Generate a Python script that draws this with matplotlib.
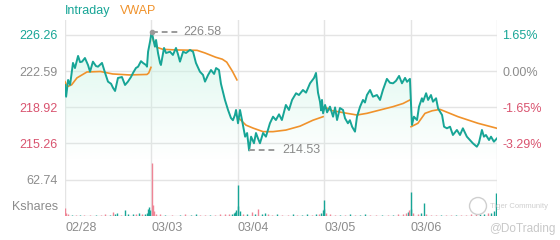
import numpy as np
import matplotlib.pyplot as plt
from matplotlib.patches import Polygon, Ellipse

plt.rcParams['font.family'] = ['Liberation Sans', 'DejaVu Sans']

# ---- data -------------------------------------------------------------
days = ["02/28", "03/03", "03/04", "03/05", "03/06"]
session = 390                      # minutes per trading day
prev_close = 222.59
price_ticks = [226.26, 222.59, 218.92, 215.26]
vol_tick = 62.74
hi_t, hi_price = 391, 226.58
lo_t, lo_price = 831, 214.53

# intraday price, minutes counted from the 02/28 open
price_t = [0, 5, 14, 23, 36, 45, 59, 68, 77, 90, 104, 113, 126, 140, 149, 167,
           181, 194, 208, 217, 226, 239, 257, 271, 284, 298, 307, 320, 330, 343,
           352, 366, 370, 375, 384,
           391, 406, 411, 420, 429, 433, 447, 456, 474, 487, 501, 510, 519, 533,
           546, 564, 578, 591, 609, 623, 632, 646, 659, 673, 682, 695, 704, 722,
           736, 749, 758, 767, 772,
           781, 790, 799, 813, 822, 831, 840, 853, 862, 871, 880, 894, 907, 925,
           939, 952, 966, 979, 997, 1011, 1025, 1043, 1056, 1074, 1088, 1106,
           1124, 1133, 1142, 1151, 1156, 1160, 1165,
           1174, 1183, 1196, 1210, 1219, 1228, 1241, 1255, 1264, 1277, 1286, 1296,
           1309, 1318, 1332, 1345, 1354, 1363, 1377, 1390, 1408, 1422, 1435, 1453,
           1467, 1481, 1494, 1508, 1521, 1535, 1544, 1557,
           1566, 1575, 1589, 1598, 1611, 1616, 1630, 1639, 1652, 1661, 1675, 1684,
           1702, 1711, 1724, 1738, 1751, 1769, 1783, 1796, 1814, 1828, 1841, 1859,
           1868, 1882, 1891, 1900, 1914, 1923, 1936, 1950]
price_v = [221.18, 219.99, 221.69, 221.20, 223.42, 222.90, 224.13, 223.50, 223.55,
           223.92, 223.20, 222.53, 223.55, 223.10, 223.04, 223.42, 222.40, 221.52,
           221.30, 220.88, 220.57, 221.89, 221.99, 221.18, 221.52, 222.00, 222.40,
           222.90, 223.04, 223.60, 223.42, 223.20, 223.04, 224.56, 225.60,
           226.58, 225.07, 225.75, 224.40, 223.42, 223.21, 224.94, 224.43, 224.56,
           224.23, 224.94, 224.30, 223.55, 224.56, 224.43, 224.74, 224.56, 223.42,
           222.53, 222.20, 221.52, 222.20, 222.70, 222.30, 222.90, 222.70, 221.30,
           219.66, 218.64, 217.83, 217.60, 218.13, 218.64,
           217.29, 218.64, 217.62, 215.93, 216.30, 214.53, 215.93, 215.26, 216.30,
           215.76, 215.26, 216.30, 215.93, 217.29, 217.96, 217.62, 218.20, 217.62,
           219.15, 218.64, 219.66, 220.34, 220.16, 220.67, 220.40, 221.35, 221.89,
           222.40, 220.40, 219.48, 218.60, 219.66, 218.30,
           219.15, 218.40, 218.98, 217.96, 218.90, 217.62, 218.84, 218.64, 217.80,
           217.29, 217.60, 216.94, 216.44, 217.96, 218.98, 219.66, 219.40, 220.16,
           220.67, 219.99, 220.16, 219.66, 220.67, 221.80, 221.40, 221.35, 221.60,
           222.10, 221.35, 221.90, 221.50, 221.80,
           217.12, 217.96, 217.62, 218.98, 219.83, 219.48, 220.34, 219.66, 220.16,
           219.48, 219.83, 218.80, 218.13, 216.94, 216.78, 216.94, 216.10, 216.61,
           216.10, 216.78, 215.93, 215.59, 215.26, 214.91, 215.26, 216.61, 215.93,
           216.10, 215.59, 215.93, 215.42, 215.76]

# VWAP, reset every day
vwap_t = [[0, 10, 30, 54, 99, 160, 215, 290, 370, 378, 388],
          [391, 400, 415, 442, 500, 596, 632, 680, 710, 730, 755, 776],
          [781, 785, 817, 849, 894, 939, 997, 1061, 1119, 1165],
          [1171, 1200, 1273, 1318, 1363, 1422, 1481, 1526, 1557],
          [1562, 1593, 1625, 1657, 1693, 1774, 1864, 1950]]
vwap_v = [[221.52, 221.00, 221.20, 221.90, 222.50, 222.55, 222.30, 222.20, 222.25, 222.40, 222.97],
          [226.40, 225.60, 225.00, 224.80, 224.74, 224.70, 224.43, 224.00, 223.80, 223.50, 222.60, 221.70],
          [217.83, 217.80, 217.10, 216.80, 216.44, 216.44, 216.60, 217.00, 217.60, 217.96],
          [218.98, 218.60, 218.30, 218.13, 218.30, 218.64, 218.98, 219.30, 219.66],
          [216.94, 217.29, 218.30, 218.56, 218.70, 217.96, 217.29, 216.78]]

# volume (thousand shares); up=1 teal, up=0 red
vol_t = [0, 5, 14, 32, 50, 68, 86, 113, 140, 163, 181, 203, 217, 226, 235, 253, 271,
         284, 307, 320, 334, 348, 361, 370, 375, 379, 384,
         391, 395, 402, 411, 429, 451, 483, 519, 542, 569, 591, 609, 632, 655, 677,
         700, 722, 740, 754, 763, 767, 772,
         779, 783, 790, 804, 822, 844, 858, 871, 889, 903, 916, 934, 957, 979, 1007,
         1029, 1047, 1070, 1092, 1115, 1133, 1147, 1156, 1163, 1167,
         1171, 1178, 1196, 1219, 1241, 1264, 1286, 1309, 1332, 1354, 1377, 1404,
         1431, 1458, 1481, 1503, 1526, 1540, 1549, 1553,
         1560, 1564, 1571, 1593, 1607, 1620, 1630, 1652, 1675, 1698, 1720, 1743,
         1765, 1788, 1810, 1833, 1856, 1874, 1891, 1909, 1923, 1936, 1945]
vol_v = [14, 5, 3, 2, 2, 2, 2, 2, 2, 2, 3, 2, 7, 4, 6, 2, 10,
         3, 4, 3, 5, 3, 4, 6, 12, 16, 10,
         92, 20, 8, 4, 3, 2, 2, 2, 3, 2, 3, 2, 2, 2, 2,
         3, 3, 4, 4, 5, 7, 10,
         54, 18, 8, 4, 4, 7, 4, 13, 4, 5, 4, 2, 3, 2, 2,
         3, 2, 2, 3, 2, 3, 4, 5, 10, 13,
         28, 6, 3, 2, 2, 2, 3, 2, 2, 3, 2, 2,
         2, 2, 2, 3, 3, 5, 7, 10,
         42, 12, 5, 4, 5, 23, 4, 2, 2, 2, 2, 2,
         2, 2, 2, 3, 3, 3, 4, 5, 6, 8, 40]
vol_up = [0, 0, 0, 1, 0, 1, 0, 0, 1, 0, 0, 1, 0, 1, 1, 0, 1,
          1, 1, 0, 1, 0, 1, 1, 1, 1, 1,
          0, 0, 0, 0, 0, 1, 0, 1, 0, 1, 1, 0, 0, 1, 0,
          0, 0, 0, 1, 1, 1, 1,
          1, 1, 1, 0, 1, 0, 1, 0, 1, 1, 0, 0, 1, 0, 0,
          1, 0, 1, 1, 0, 1, 0, 1, 1, 1,
          1, 0, 0, 0, 1, 0, 1, 0, 1, 1, 0, 0,
          1, 0, 1, 0, 0, 0, 1, 0,
          1, 1, 0, 0, 1, 1, 0, 0, 0, 1, 0, 0,
          1, 0, 0, 0, 0, 1, 1, 0, 1, 1, 1]

# ---- style ------------------------------------------------------------
teal = '#17a596'
orange = '#f0922b'
red = '#d9536f'
vol_red = '#ef8596'
gray = '#8c8c8c'
grid = '#e4e4e4'
total = session * len(days)
day_starts = [i * session for i in range(len(days))]

fig = plt.figure(figsize=(5.6, 2.4), dpi=100)
ax = fig.add_axes([65 / 560, 1 - 160 / 240, 432 / 560, 140 / 240])
axv = fig.add_axes([65 / 560, 1 - 216 / 240, 432 / 560, 56 / 240])

ylo, yhi = 213.56, 227.78
ax.set_xlim(0, total)
ax.set_ylim(ylo, yhi)

# gradient fill under the price line
poly = Polygon(np.column_stack([[price_t[0]] + price_t + [price_t[-1]],
                                [ylo] + price_v + [ylo]]),
               closed=True, facecolor='none', edgecolor='none')
ax.add_patch(poly)
grad = np.zeros((256, 1, 4))
grad[:, 0, :3] = [0.80, 0.96, 0.90]
grad[:, 0, 3] = np.linspace(0.7, 0.0, 256)
im = ax.imshow(grad, extent=[0, total, ylo, max(price_v)], aspect='auto',
               origin='upper', zorder=1)
im.set_clip_path(poly)

ax.plot(price_t, price_v, color=teal, lw=1.4, zorder=4)
for t, v in zip(vwap_t, vwap_v):
    ax.plot(t, v, color=orange, lw=1.2, zorder=3)

# high / low markers
ax.plot([hi_t], [hi_price], 'o', ms=3, color='#9a9a9a', zorder=5)
ax.plot([hi_t, hi_t + 125], [hi_price, hi_price], ls=(0, (3, 2)), lw=1.4, color='#9a9a9a', zorder=5)
ax.text(hi_t + 145, hi_price, f"{hi_price:.2f}", color='#8a8a8a', fontsize=9, va='center')
ax.plot([lo_t, lo_t + 117], [lo_price, lo_price], ls=(0, (3, 2)), lw=1.4, color='#9a9a9a', zorder=5)
ax.text(lo_t + 150, lo_price, f"{lo_price:.2f}", color='#8a8a8a', fontsize=9, va='center')

# grid
for a in (ax, axv):
    a.set_xlim(0, total)
    for s in a.spines.values():
        s.set_visible(False)
    for x in day_starts + [total]:
        a.axvline(x, color=grid, lw=1, zorder=0)
    a.tick_params(length=0)
for p in price_ticks:
    ax.axhline(p, color=grid, lw=1, zorder=0)

ax.set_xticks([])
ax.set_yticks(price_ticks)
ax.set_yticklabels([f"{p:.2f}" for p in price_ticks], fontsize=9)
ax.tick_params(axis='y', pad=5)
for lab, p in zip(ax.get_yticklabels(), price_ticks):
    lab.set_color(teal if p > prev_close else (red if p < prev_close else gray))

axr = ax.twinx()
axr.set_ylim(ylo, yhi)
for s in axr.spines.values():
    s.set_visible(False)
axr.set_yticks(price_ticks)
pct = [(p / prev_close - 1) * 100 for p in price_ticks]
axr.set_yticklabels([f"{q:.2f}%" for q in pct], fontsize=9)
axr.tick_params(length=0, pad=4)
for lab, q in zip(axr.get_yticklabels(), pct):
    lab.set_color(teal if q > 0.005 else (red if q < -0.005 else gray))

# volume
vmax = vol_tick * 56 / 36
axv.set_ylim(0, vmax)
colors = [teal if u else vol_red for u in vol_up]
axv.vlines(vol_t, 0, vol_v, colors=colors, lw=1.0, zorder=2)
axv.axhline(vol_tick, color=grid, lw=1, zorder=0)
axv.axhline(0, color='#d8d8d8', lw=1, zorder=1)
axv.set_yticks([vol_tick])
axv.set_yticklabels([f"{vol_tick:.2f}"], fontsize=9, color=gray)
axv.tick_params(axis='y', pad=5)
axv.text(-7 / 432, 0.05, "Kshares", transform=axv.transAxes, ha='right', va='bottom',
         fontsize=9, color=gray)
axv.set_xticks(day_starts)
axv.set_xticklabels(days, fontsize=9, color=gray, ha='left')
axv.tick_params(axis='x', pad=4)

# legend
fig.text(65 / 560, 1 - 11 / 240, "Intraday", color=teal, fontsize=9, va='center')
fig.text(120 / 560, 1 - 11 / 240, "VWAP", color=orange, fontsize=9, va='center')

# watermark
fig.patches.append(Ellipse((478 / 560, 1 - 206 / 240), 17 / 560, 17 / 240,
                           transform=fig.transFigure, fill=False, ec='#cfcfcf', lw=1))
fig.text(548 / 560, 1 - 207 / 240, "Tiger Community", color='#cfcfcf', fontsize=5.5,
         ha='right', va='center')
fig.text(555 / 560, 1 - 229 / 240, "@DoTrading", color='#c8c8c8', fontsize=8.5,
         ha='right', va='center')

fig.savefig("out.png", dpi=100)
